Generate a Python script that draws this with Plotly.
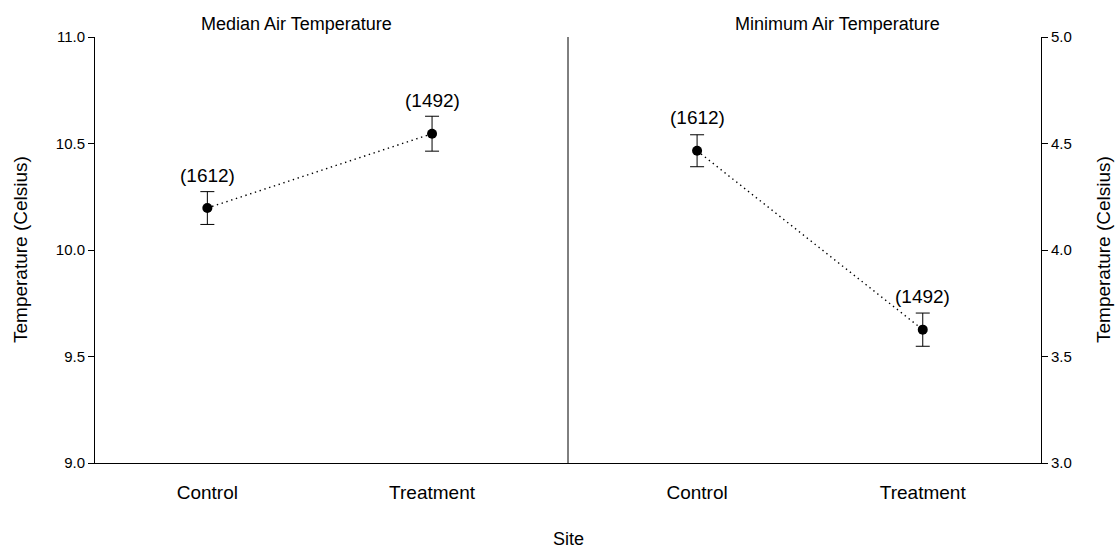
import plotly.graph_objects as go

# Site categories and their positions on each panel
sites = ["Control", "Treatment"]
site_pos = [1, 2]

# Median air temperature (left panel)
median_temp = [10.197, 10.546]
median_err = [0.077, 0.082]

# Minimum air temperature (right panel)
minimum_temp = [4.466, 3.626]
minimum_err = [0.075, 0.078]

# Sample sizes shown above each point
sample_n = ["(1612)", "(1492)"]

median_ticks = [9.0, 9.5, 10.0, 10.5, 11.0]
minimum_ticks = [3.0, 3.5, 4.0, 4.5, 5.0]

FONT = "Liberation Sans, Arial, sans-serif"

W, H = 1117, 548
L, R, T, B = 95, 76, 37, 85
pw, ph = W - L - R, H - T - B


def px_x(v):
    return (v - L) / pw


def px_y(v):
    return (H - B - v) / ph


fig = go.Figure()

line_style = dict(color="black", width=1.4, dash="1.4px,3.6px")
marker_style = dict(color="black", size=10)

fig.add_trace(go.Scatter(
    x=site_pos, y=median_temp, xaxis="x", yaxis="y",
    mode="lines+markers", line=line_style, marker=marker_style,
    error_y=dict(type="data", array=median_err, color="black", thickness=1, width=7),
    showlegend=False,
))

fig.add_trace(go.Scatter(
    x=site_pos, y=minimum_temp, xaxis="x2", yaxis="y2",
    mode="lines+markers", line=line_style, marker=marker_style,
    error_y=dict(type="data", array=minimum_err, color="black", thickness=1, width=7),
    showlegend=False,
))

annotations = []
for xv, yv, txt in zip(site_pos, median_temp, sample_n):
    annotations.append(dict(x=xv, y=yv, xref="x", yref="y", text=txt, showarrow=False,
                            yshift=33, font=dict(size=19, color="black", family=FONT)))
for xv, yv, txt in zip(site_pos, minimum_temp, sample_n):
    annotations.append(dict(x=xv, y=yv, xref="x2", yref="y2", text=txt, showarrow=False,
                            yshift=33, font=dict(size=19, color="black", family=FONT)))

# Panel titles
annotations.append(dict(x=px_x(296), y=px_y(24), xref="paper", yref="paper",
                        xanchor="center", yanchor="middle", text="Median Air Temperature",
                        showarrow=False, font=dict(size=18, color="black", family=FONT)))
annotations.append(dict(x=px_x(837), y=px_y(24), xref="paper", yref="paper",
                        xanchor="center", yanchor="middle", text="Minimum Air Temperature",
                        showarrow=False, font=dict(size=18, color="black", family=FONT)))

# Shared x-axis label
annotations.append(dict(x=px_x(568), y=px_y(539), xref="paper", yref="paper",
                        xanchor="center", yanchor="middle", text="Site",
                        showarrow=False, font=dict(size=18, color="black", family=FONT)))

# Side axis titles
annotations.append(dict(x=px_x(20), y=0.5, xref="paper", yref="paper",
                        xanchor="center", yanchor="middle", textangle=-90,
                        text="Temperature (Celsius)", showarrow=False,
                        font=dict(size=19, color="black", family=FONT)))
annotations.append(dict(x=px_x(1103), y=0.5, xref="paper", yref="paper",
                        xanchor="center", yanchor="middle", textangle=-90,
                        text="Temperature (Celsius)", showarrow=False,
                        font=dict(size=19, color="black", family=FONT)))

x_common = dict(showgrid=False, zeroline=False, showline=True, linecolor="black", linewidth=1,
                ticks="", tickfont=dict(size=19), ticklabelstandoff=12, automargin=False,
                tickvals=site_pos, ticktext=sites)
y_common = dict(showgrid=False, zeroline=False, showline=True, linecolor="black", linewidth=1,
                ticks="outside", ticklen=6, tickcolor="black", tickfont=dict(size=15),
                automargin=False)

fig.update_layout(
    width=W, height=H,
    margin=dict(l=L, r=R, t=T, b=B),
    paper_bgcolor="white", plot_bgcolor="white",
    font=dict(family=FONT, color="black"),
    xaxis=dict(domain=[0, 0.5], range=[0.5, 2.605], **x_common),
    xaxis2=dict(domain=[0.5, 1], range=[0.428, 2.524], anchor="y2", **x_common),
    yaxis=dict(range=[9.0, 11.0], tickvals=median_ticks,
               ticktext=[f"{v:.1f}" for v in median_ticks], **y_common),
    yaxis2=dict(range=[3.0, 5.0], tickvals=minimum_ticks,
                ticktext=[f"{v:.1f}" for v in minimum_ticks],
                anchor="x2", side="right", **y_common),
    annotations=annotations,
    shapes=[dict(type="line", xref="paper", yref="paper", x0=0.5, x1=0.5, y0=0, y1=1,
                 line=dict(color="black", width=1))],
)

fig.write_html("out.html")
